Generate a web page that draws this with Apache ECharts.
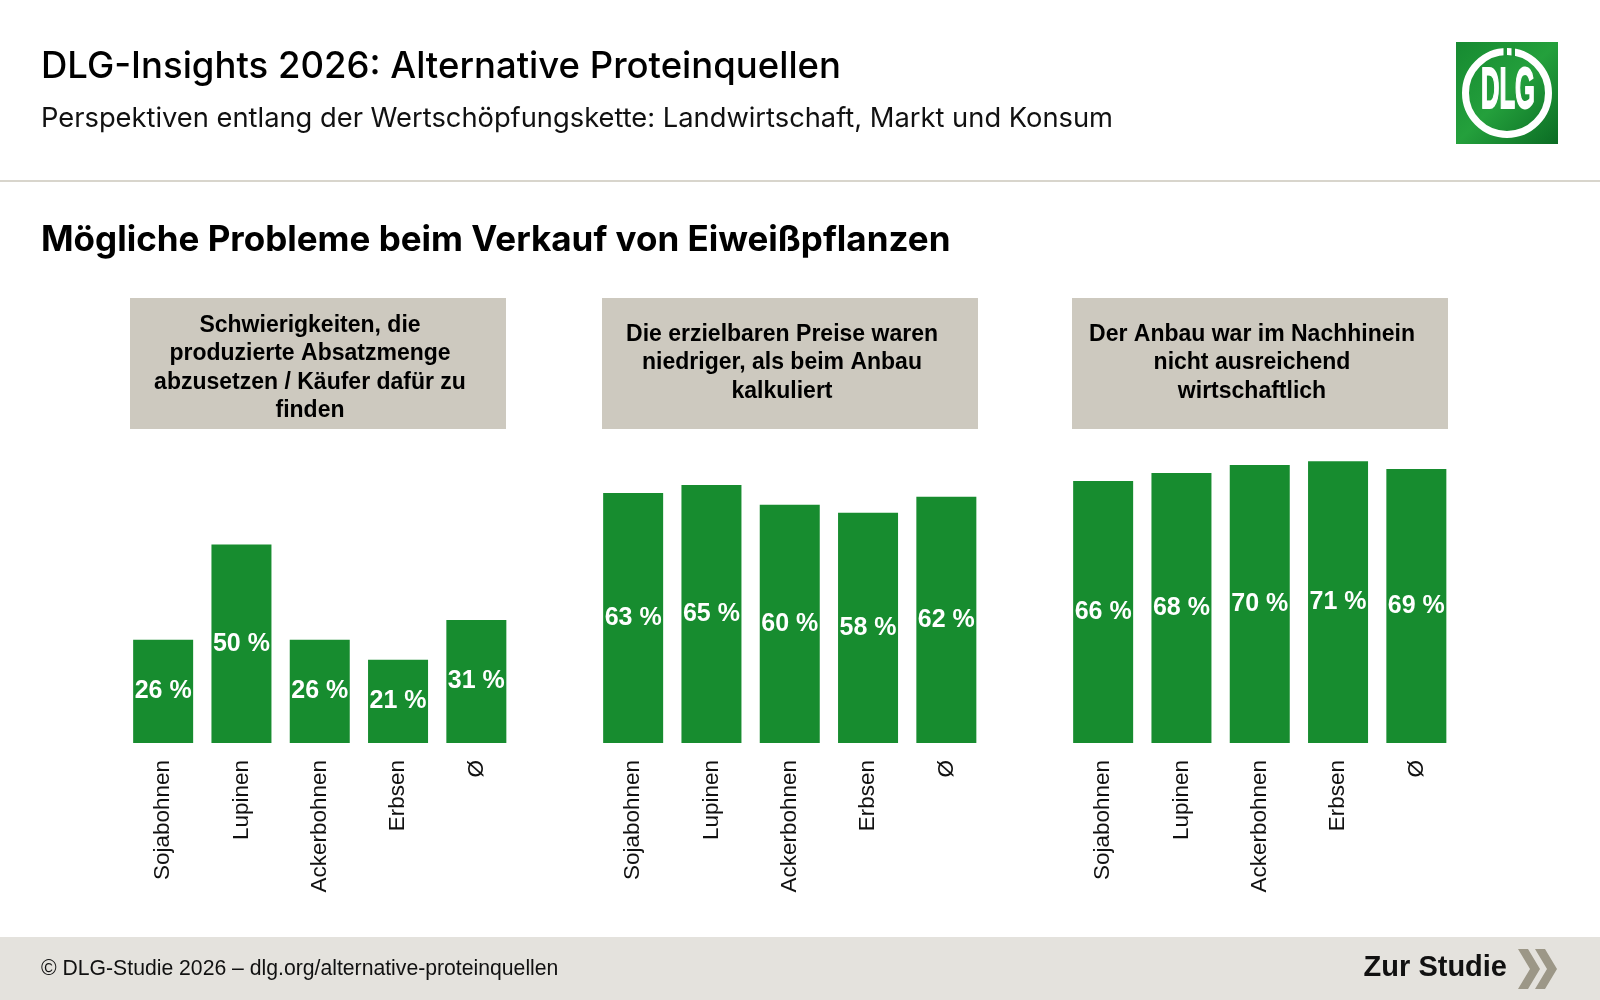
<!DOCTYPE html>
<html>
<head>
<meta charset="utf-8">
<title>DLG-Insights 2026</title>
<script src="https://cdn.jsdelivr.net/npm/echarts@6/dist/echarts.min.js"></script>
<style>
  html, body { margin: 0; padding: 0; background: #fff; }
  #main { width: 1600px; height: 1000px; }
</style>
</head>
<body>
<div id="main"></div>
<script>
// Werte aus der Grafik
var categories = ['Sojabohnen', 'Lupinen', 'Ackerbohnen', 'Erbsen', 'Ø'];
var panelTitles = [
    'Schwierigkeiten, die\nproduzierte Absatzmenge\nabzusetzen / Käufer dafür zu\nfinden',
    'Die erzielbaren Preise waren\nniedriger, als beim Anbau\nkalkuliert',
    'Der Anbau war im Nachhinein\nnicht ausreichend\nwirtschaftlich'
];
var absatzValues = [26, 50, 26, 21, 31];
var preisValues = [63, 65, 60, 58, 62];
var wirtschaftValues = [66, 68, 70, 71, 69];
var panelValues = [absatzValues, preisValues, wirtschaftValues];

var GREEN = '#178c2f';
var ARIAL = '"Liberation Sans", Arial, sans-serif';
var BRAND = 'Inter, "Noto Sans", sans-serif';

var panelLeft = [124, 594, 1064];
var boxLeft = [130, 602, 1072];

function createChart() {
    var chartDom = document.getElementById('main');
    var myChart = echarts.init(chartDom);
    var option;

    var grids = [], xAxes = [], yAxes = [], series = [], graphics = [];

    panelValues.forEach(function (values, i) {
        grids.push({ left: panelLeft[i], top: 346, width: 391.5, height: 397 });
        xAxes.push({
            type: 'category',
            gridIndex: i,
            data: categories,
            axisLine: { show: false },
            axisTick: { show: false },
            axisLabel: {
                rotate: 90,
                margin: 17,
                fontSize: 22.5,
                color: '#111',
                fontFamily: ARIAL
            }
        });
        yAxes.push({ type: 'value', gridIndex: i, min: 0, max: 100, show: false });
        series.push({
            type: 'bar',
            xAxisIndex: i,
            yAxisIndex: i,
            data: values,
            barWidth: 60,
            itemStyle: { color: GREEN },
            label: {
                show: true,
                position: 'inside',
                formatter: '{c} %',
                color: '#fff',
                fontWeight: 'bold',
                fontSize: 25,
                fontFamily: ARIAL
            },
            emphasis: { disabled: true }
        });

        // Kopfkasten
        var lines = panelTitles[i].split('\n').length;
        graphics.push({
            type: 'rect',
            shape: { x: boxLeft[i], y: 298, width: 376, height: 131 },
            style: { fill: '#cdc9bf' }
        });
        graphics.push({
            type: 'text',
            x: boxLeft[i] + 180,
            y: 363 + (lines - 3) * 5,
            style: {
                text: panelTitles[i],
                fill: '#000',
                font: 'bold 23px ' + ARIAL,
                lineHeight: 28.5,
                align: 'center',
                verticalAlign: 'middle'
            }
        });
    });

    // Kopfbereich
    graphics.push(
        {
            type: 'text', x: 41, y: 67,
            style: { text: 'DLG-Insights 2026: Alternative Proteinquellen', fill: '#000',
                font: '500 36.5px ' + BRAND, verticalAlign: 'middle' }
        },
        {
            type: 'text', x: 41, y: 119,
            style: { text: 'Perspektiven entlang der Wertschöpfungskette: Landwirtschaft, Markt und Konsum',
                fill: '#111', font: '400 27.3px ' + BRAND, verticalAlign: 'middle' }
        },
        {
            type: 'line',
            shape: { x1: 0, y1: 181, x2: 1600, y2: 181 },
            style: { stroke: '#d8d5cc', lineWidth: 2 }
        },
        {
            type: 'text', x: 41, y: 240,
            style: { text: 'Mögliche Probleme beim Verkauf von Eiweißpflanzen', fill: '#000',
                font: '700 35px ' + BRAND, verticalAlign: 'middle' }
        }
    );

    // Logo
    graphics.push({
        type: 'group',
        children: [
            {
                type: 'rect',
                shape: { x: 1456, y: 42, width: 102, height: 102 },
                style: {
                    fill: new echarts.graphic.LinearGradient(0, 0, 1, 1, [
                        { offset: 0, color: '#168a31' },
                        { offset: 0.5, color: '#24a03c' },
                        { offset: 1, color: '#0b6c24' }
                    ])
                }
            },
            {
                type: 'circle',
                shape: { cx: 1507, cy: 93, r: 41.5 },
                style: { fill: 'none', stroke: '#fff', lineWidth: 7 }
            },
            { type: 'rect', shape: { x: 1503.5, y: 45, width: 3.5, height: 12 }, style: { fill: '#1d9536' } },
            { type: 'rect', shape: { x: 1511.5, y: 45, width: 3.5, height: 12 }, style: { fill: '#1d9536' } },
            {
                type: 'group',
                x: 1508,
                y: 92,
                scaleX: 0.44,
                children: [{
                    type: 'text',
                    style: {
                        text: 'DLG', fill: '#fff', stroke: '#fff', lineWidth: 2,
                        font: 'bold 58px ' + ARIAL,
                        align: 'center', verticalAlign: 'middle'
                    }
                }]
            }
        ]
    });

    // Fußzeile
    graphics.push(
        {
            type: 'rect',
            shape: { x: 0, y: 937, width: 1600, height: 63 },
            style: { fill: '#e4e2dd' }
        },
        {
            type: 'text', x: 41, y: 969,
            style: { text: '© DLG-Studie 2026 – dlg.org/alternative-proteinquellen', fill: '#111',
                font: '21.2px ' + ARIAL, verticalAlign: 'middle' }
        },
        {
            type: 'text', x: 1507, y: 968,
            style: { text: 'Zur Studie', fill: '#111', font: 'bold 29px ' + ARIAL,
                align: 'right', verticalAlign: 'middle' }
        },
        {
            type: 'polygon',
            shape: { points: [[1518, 949], [1528, 949], [1540, 969], [1528, 989], [1518, 989], [1530, 969]] },
            style: { fill: '#9c9787' }
        },
        {
            type: 'polygon',
            shape: { points: [[1535, 949], [1545, 949], [1557, 969], [1545, 989], [1535, 989], [1547, 969]] },
            style: { fill: '#9c9787' }
        }
    );

    option = {
        backgroundColor: '#fff',
        animation: false,
        grid: grids,
        xAxis: xAxes,
        yAxis: yAxes,
        series: series,
        graphic: graphics
    };

    option && myChart.setOption(option);
}

createChart();
</script>
</body>
</html>
